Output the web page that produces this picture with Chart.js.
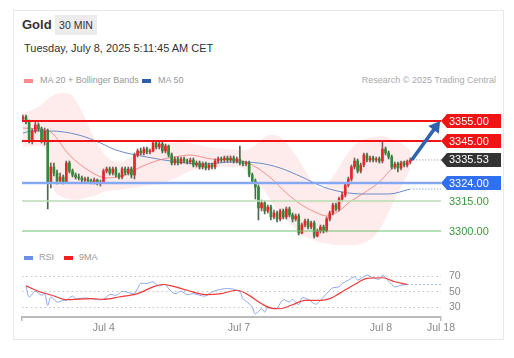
<!DOCTYPE html>
<html><head><meta charset="utf-8">
<script src="https://cdn.jsdelivr.net/npm/chart.js@4"></script>
<style>
html,body{margin:0;padding:0;background:#fff;}
body{width:514px;height:358px;position:relative;overflow:hidden;font-family:"Liberation Sans",Arial,sans-serif;}
#card{position:absolute;left:13px;top:10px;width:489px;height:328px;border:1px solid #e8e8e8;}
.t{position:absolute;white-space:nowrap;}
.sw{position:absolute;width:9px;height:4px;}
#c{position:absolute;left:0;top:0;}
</style></head><body>
<div id="card"></div>
<div class="t" style="left:22px;top:17px;font-size:13px;font-weight:bold;color:#333">Gold</div>
<div class="t" style="left:55px;top:15px;width:42px;height:20px;background:#ececec;font-size:10.5px;color:#333;line-height:20px;text-align:center">30 MIN</div>
<div class="t" style="left:24px;top:42px;font-size:11px;color:#333">Tuesday, July 8, 2025 5:11:45 AM CET</div>
<div class="sw" style="left:24px;top:79px;background:#ff8a8a"></div>
<div class="t" style="left:40px;top:75px;font-size:9px;color:#999">MA 20 + Bollinger Bands</div>
<div class="sw" style="left:142px;top:79px;background:#2f5ea8"></div>
<div class="t" style="left:158px;top:75px;font-size:9px;color:#999">MA 50</div>
<div class="t" style="right:18px;top:75px;font-size:9px;color:#aaa">Research © 2025 Trading Central</div>
<div class="sw" style="left:24px;top:256px;background:#6d90e6"></div>
<div class="t" style="left:39px;top:252px;font-size:9px;color:#999">RSI</div>
<div class="sw" style="left:64px;top:256px;background:#f02020"></div>
<div class="t" style="left:79px;top:252px;font-size:9px;color:#999">9MA</div>
<canvas id="c" width="514" height="358"></canvas>
<script>
// ---- data ----
const opens = [3356,3357,3354.5,3345,3350,3353,3351,3345,3350,3324,
3332,3329,3325,3327,3324.5,3334,3330,3328,3327,3326.5,
3325.5,3326,3325,3324.5,3325.5,3324,3324.5,3330,3331,3329,
3331,3328,3327,3331,3329,3331,3328,3338,3340,3339,
3341,3339.5,3340,3344,3342,3343.5,3340,3342.5,3338,3334,
3336,3334,3336,3335,3334.5,3335.5,3333,3334,3332,3333.5,
3331.5,3333,3332,3335,3336,3335.5,3336.5,3335.5,3336.5,3335,
3336,3334,3333.5,3334,3328,3325,3322,3311.5,3314,3310,
3312,3307,3309,3306,3310,3307,3311,3308,3306,3307.5,
3299,3303,3305,3302,3304,3297.5,3300,3302,3300,3306,
3309,3313,3311,3316,3318,3323,3326,3332,3335,3330,
3333,3338,3335.5,3336.5,3335.5,3336,3335,3341,3339,3337,
3332,3333.5,3331.5,3334,3333,3334.5];
const highs = [3358,3358,3355.5,3351,3354.5,3354,3352,3351.5,3351,3334,
3334,3330.5,3329,3328,3335,3335,3331,3329,3328.5,3327.5,
3327,3327,3326,3326.5,3326,3325.5,3331,3332,3332,3332,
3332,3329,3332,3332,3332,3332,3339,3341,3341.5,3342,
3342,3341,3345,3345,3344.5,3344.5,3343.5,3343,3339,3337,
3337,3337,3337,3336,3336.5,3336.5,3335,3335,3334.5,3334.5,
3334,3334,3336,3337,3337,3337.5,3337.5,3337.5,3337.5,3337,
3342.5,3335,3335,3335,3329,3326,3323,3315.5,3315,3313,
3313,3310.5,3310,3311,3311,3312,3312,3309,3308.5,3308.5,
3304,3306,3306,3305,3305,3301,3303,3303,3307,3310,
3314,3314,3317,3319.5,3324,3327,3333,3336.5,3336,3334,
3339,3339,3337.5,3337.5,3337,3337,3344.5,3342,3340,3338,
3334.5,3334.5,3335,3335,3335.5,3336.5];
const lows = [3355,3353.5,3344,3343.5,3349,3350,3344,3343,3311,3321.5,
3327.5,3323.5,3324,3323.5,3324,3329,3327,3326,3325.5,3324.5,
3324.5,3324,3323.5,3323.5,3323,3322.5,3324,3329,3328,3328,
3327,3326,3326,3328,3328,3326.5,3326,3337,3338,3338,
3338.5,3338.5,3339.5,3341,3341,3339,3339,3337,3333,3333,
3333,3333.5,3334,3333.5,3333.5,3332,3332,3331,3331,3330.5,
3330.5,3331,3331,3334,3334.5,3334.5,3334.5,3334.5,3334,3334,
3333,3332.5,3332.5,3327,3324,3316,3305.5,3310,3308.5,3309,
3305.5,3306,3304.5,3305,3306,3306,3307,3304.5,3305,3298,
3298.5,3302,3301,3301,3296.5,3297,3299,3299,3299.5,3305,
3308,3310,3310,3315,3317,3322,3325,3331,3329,3329,
3332,3334.5,3334.5,3334.5,3334.5,3334,3334,3338,3336,3331,
3331,3329.5,3330.5,3332,3332,3333.5];
const closes = [3357,3354.5,3345,3350,3353,3351,3345,3350,3324,3332,
3329,3325,3327,3324.5,3334,3330,3328,3327,3326.5,3325.5,
3326,3325,3324.5,3325.5,3324,3324.5,3330,3331,3329,3331,
3328,3327,3331,3329,3331,3328,3338,3340,3339,3341,
3339.5,3340,3344,3342,3343.5,3340,3342.5,3338,3334,3336,
3334,3336,3335,3334.5,3335.5,3333,3334,3332,3333.5,3331.5,
3333,3332,3335,3336,3335.5,3336.5,3335.5,3336.5,3335,3336,
3334,3333.5,3334,3328,3325,3322,3311.5,3314,3310,3312,
3307,3309,3306,3310,3307,3311,3308,3306,3307.5,3299,
3303,3305,3302,3304,3297.5,3300,3302,3300,3306,3309,
3313,3311,3316,3318,3323,3326,3332,3335,3330,3333,
3338,3335.5,3336.5,3335.5,3336,3335,3341,3339,3337,3332,
3333.5,3331.5,3334,3333,3334.5,3335.5];

const ma20At = [0,5,9,15,22,27,33,38,44,49,54,61,69,74,80,85,90,95,98,102,105,110,115,119,123,125];
const ma20   = [3351.5,3351,3349.5,3338,3329.5,3326.5,3328,3332,3335.5,3337,3338,3336,3335.5,3333,3326.5,3319,3313,3309,3307.5,3310,3314,3319,3324.5,3331,3334.5,3335];

const bbAt = [0,5,8,10,12,15,17,20,23,27,31,37,41,45,50,54,58,62,66,69,72,75,78,80,83,85,88,90,93,95,97,99,101,104,107,110,113,116,118,121,125];
const bbUp = [3359,3362,3366,3368,3369,3368.5,3365.5,3356.5,3346.5,3337,3334.5,3339,3342,3343.5,3344.5,3344,3342.5,3341.5,3341,3340.5,3340.5,3343,3347,3348,3347,3344,3338,3333,3325.5,3322,3321.5,3325,3329.5,3337,3343,3346,3347,3347.5,3346.5,3345,3340.5];
const bbLo = [3342,3342.5,3339,3321,3317.5,3316,3315.5,3316.5,3317.5,3320,3320.5,3322,3323,3324,3327,3330,3331,3332,3332,3332,3330.5,3326,3320,3315,3309,3305.5,3301,3298,3296,3294.5,3294,3293.5,3293,3293,3293,3294,3297,3303,3309.5,3319,3331];

const ma50At = [0,3,9,18,25,30,40,50,58,68,76,83,90,97,103,110,118,125];
const ma50   = [3349,3350,3350,3348,3344,3340.5,3337,3334.5,3333.5,3334.5,3334,3331.5,3327,3322,3319.5,3318.5,3318.5,3321];

const rsiAt = [1,2,4,6,7,8,9,11,13,14,16,17,20,22,24,26,28,30,31,32,34,36,37,38,40,42,43,44,46,47,49,51,53,55,57,59,61,64,66,68,70,71,73,74,75,77,78,79,81,82,84,86,87,89,90,92,94,95,97,99,100,102,103,105,107,108,110,111,113,115,116,118,120,122,124];
const rsi   = [57.5,43.3,50.6,45.5,47.6,32.6,43.3,36.9,39,39,44.6,41.2,42,41.2,39.9,40.3,46.3,45.5,47.6,50.6,48.9,47.6,54,60.5,60.5,62.7,59.2,57.5,59.2,54,47.6,50.6,46.3,47.6,45.5,44.6,49.8,53.2,54,53.2,49.8,41.2,34.7,30.4,21.8,28.3,24,30.4,28.3,29.1,39.9,36.9,40.3,33.4,42,40.3,34.7,34.7,43.3,51.9,55,56.2,60.5,64.8,69.1,64.8,69.1,71.3,67.8,66.1,71.3,63.5,56.2,58.4,59.2];
const rsiMaAt = [1,5,10,14,22,26,31,37,42,45,48,53,59,64,69,72,77,80,83,87,91,96,99,102,107,111,116,120,124];
const rsiMa   = [57.5,50.6,44.6,39.9,41.2,40.3,43.3,47.6,56.2,59.2,57.5,51.9,46.3,47.6,51.9,47.6,34.7,29.1,28.3,33.4,39,39,41.2,47.6,59.2,67,67.8,62.7,59.2];

const xTickAt = [-0.3,26.1,69.7,115.5,134.9];
const xTickLabels = ['','Jul 4','Jul 7','Jul 8','Jul 18'];
const rsiTicks = [30,50,70];
const levels = [3355,3345,3324,3315,3300];
const levelKinds = ['res','res','sup','sup2','sup3'];
const lastPrice = 3335.53;
const arrowFrom = [125.7,3336];
const arrowTo = [134.6,3355];

// ---- chart ----
const FONT = '"Liberation Sans", Arial, sans-serif';
const RED = '#e8262a', GREEN = '#2f8a3a';
const up = opens.map((o,i)=>closes[i]>=o);
const pts = (xs,ys)=>xs.map((x,i)=>({x:x,y:ys[i]}));

const overlay = {
  id:'overlay',
  afterDatasetsDraw(chart){
    const {ctx, chartArea:ca} = chart;
    const x = chart.scales.x, y = chart.scales.y, yR = chart.scales.yR;
    const style = {
      res:{c:'#f01414', w:2, tag:'#f01414'},
      sup:{c:'#86a8f2', w:2.5, tag:'#2f6ff0'},
      sup2:{c:'#b8dcb2', w:1.5, text:'#3a9a3a'},
      sup3:{c:'#6cbf6c', w:1, text:'#3a9a3a'}
    };
    ctx.save();
    levels.forEach((v,i)=>{
      const s = style[levelKinds[i]];
      const py = y.getPixelForValue(v);
      ctx.strokeStyle = s.c; ctx.lineWidth = s.w;
      ctx.beginPath(); ctx.moveTo(ca.left, py); ctx.lineTo(ca.right, py); ctx.stroke();
    });
    const lastX = x.getPixelForValue(closes.length-1) + 3;
    ctx.setLineDash([1,2]); ctx.lineWidth = 1;
    ctx.strokeStyle = '#888';
    let py = y.getPixelForValue(lastPrice);
    ctx.beginPath(); ctx.moveTo(lastX, py); ctx.lineTo(ca.right, py); ctx.stroke();
    ctx.strokeStyle = '#6a8cc8';
    py = y.getPixelForValue(ma50[ma50.length-1]);
    ctx.beginPath(); ctx.moveTo(lastX, py); ctx.lineTo(ca.right, py); ctx.stroke();
    ctx.strokeStyle = '#8ba7ee'; ctx.setLineDash([1.5,2.5]);
    py = yR.getPixelForValue(rsi[rsi.length-1]);
    ctx.beginPath(); ctx.moveTo(x.getPixelForValue(rsiAt[rsiAt.length-1]), py); ctx.lineTo(ca.right, py); ctx.stroke();
    ctx.setLineDash([]);
    const ax0 = x.getPixelForValue(arrowFrom[0]), ay0 = y.getPixelForValue(arrowFrom[1]);
    const ax1 = x.getPixelForValue(arrowTo[0]), ay1 = y.getPixelForValue(arrowTo[1]);
    const ang = Math.atan2(ay1-ay0, ax1-ax0), hl = 11, hw = 6.5;
    const bx = ax1 - hl*Math.cos(ang), by = ay1 - hl*Math.sin(ang);
    ctx.strokeStyle = '#2f63ad'; ctx.fillStyle = '#2f63ad'; ctx.lineWidth = 3.5; ctx.lineCap='round';
    ctx.beginPath(); ctx.moveTo(ax0, ay0); ctx.lineTo(bx, by); ctx.stroke();
    ctx.beginPath(); ctx.moveTo(ax1, ay1);
    ctx.lineTo(bx + hw*Math.sin(ang), by - hw*Math.cos(ang));
    ctx.lineTo(bx - hw*Math.sin(ang), by + hw*Math.cos(ang));
    ctx.closePath(); ctx.fill();
    const tag = (v, col)=>{
      const yc = y.getPixelForValue(v), l = ca.right, r = 501, h = 7;
      ctx.fillStyle = col;
      ctx.beginPath(); ctx.moveTo(l, yc); ctx.lineTo(l+6, yc-h); ctx.lineTo(r, yc-h); ctx.lineTo(r, yc+h); ctx.lineTo(l+6, yc+h); ctx.closePath(); ctx.fill();
      ctx.fillStyle = '#fff'; ctx.font = '11px '+FONT; ctx.textBaseline='middle'; ctx.textAlign='left';
      ctx.fillText(v.toFixed(2), l+8, yc+0.5);
    };
    levels.forEach((v,i)=>{
      const s = style[levelKinds[i]];
      if (s.tag) tag(v, s.tag);
      else {
        ctx.fillStyle = s.text; ctx.font = '11px '+FONT; ctx.textBaseline='middle'; ctx.textAlign='left';
        ctx.fillText(v.toFixed(2), ca.right+8, y.getPixelForValue(v)+0.5);
      }
    });
    tag(lastPrice, '#333');
    ctx.restore();
  }
};

new Chart(document.getElementById('c'), {
  type:'bar',
  data:{datasets:[
    {type:'bar', data: opens.map((o,i)=>({x:i, y:[o, closes[i]]})), backgroundColor: up.map(u=>u?RED:GREEN), barThickness:2, grouped:false, order:0, yAxisID:'y'},
    {type:'bar', data: highs.map((h,i)=>({x:i, y:[lows[i], h]})), backgroundColor: up.map(u=>u?'#8a5a5a':'#4a6a4a'), barThickness:1, grouped:false, order:1, yAxisID:'y'},
    {type:'line', data: pts(ma20At, ma20), borderColor:'rgba(240,110,110,0.75)', borderWidth:1, pointRadius:0, cubicInterpolationMode:'monotone', order:2, yAxisID:'y'},
    {type:'line', data: pts(ma50At, ma50), borderColor:'#6a8cc8', borderWidth:1, pointRadius:0, cubicInterpolationMode:'monotone', order:3, yAxisID:'y'},
    {type:'line', data: pts(bbAt, bbUp), borderWidth:0, borderColor:'rgba(0,0,0,0)', pointRadius:0, cubicInterpolationMode:'monotone', fill:'+1', backgroundColor:'rgba(245,95,95,0.12)', order:6, yAxisID:'y'},
    {type:'line', data: pts(bbAt, bbLo), borderWidth:0, borderColor:'rgba(0,0,0,0)', pointRadius:0, cubicInterpolationMode:'monotone', fill:false, order:7, yAxisID:'y'},
    {type:'line', data: pts(rsiAt, rsi), borderColor:'#8ba7ee', borderWidth:1, pointRadius:0, tension:0.3, order:4, yAxisID:'yR'},
    {type:'line', data: pts(rsiMaAt, rsiMa), borderColor:'#f23a3a', borderWidth:1.2, pointRadius:0, cubicInterpolationMode:'monotone', order:3.5, yAxisID:'yR'}
  ]},
  options:{
    responsive:false, animation:false, events:[],
    layout:{padding:{left:22, right:33, top:93, bottom:11}},
    plugins:{legend:{display:false}, tooltip:{enabled:false}},
    scales:{
      x:{type:'linear', min:xTickAt[0], max:xTickAt[xTickAt.length-1], offset:false,
        border:{color:'#bbb', width:2},
        grid:{offset:false, drawOnChartArea:false, drawTicks:true, tickLength:4, lineWidth:1.5,
          color:(c)=>(c.index===0||c.index===xTickAt.length-1)?'#bbb':'rgba(0,0,0,0)'},
        ticks:{autoSkip:false, maxRotation:0, padding:1, color:'#888', font:{size:10.5, family:FONT},
          callback:(v,i)=>xTickLabels[i]},
        afterBuildTicks:(s)=>{s.ticks = xTickAt.map(v=>({value:v}));},
        afterFit:(s)=>{s.height = 30;}
      },
      y:{type:'linear', display:false, min:3257, max:3369},
      yR:{type:'linear', position:'right', min:17.8, max:303.1,
        border:{display:false, dash:[1.5,3]},
        grid:{color:'#c4c4c4', drawTicks:false},
        ticks:{padding:8, color:'#888', font:{size:10.5, family:FONT}},
        afterBuildTicks:(s)=>{s.ticks = rsiTicks.map(v=>({value:v}));},
        afterFit:(s)=>{s.width = 40;}
      }
    }
  },
  plugins:[overlay]
});
</script>
</body></html>
